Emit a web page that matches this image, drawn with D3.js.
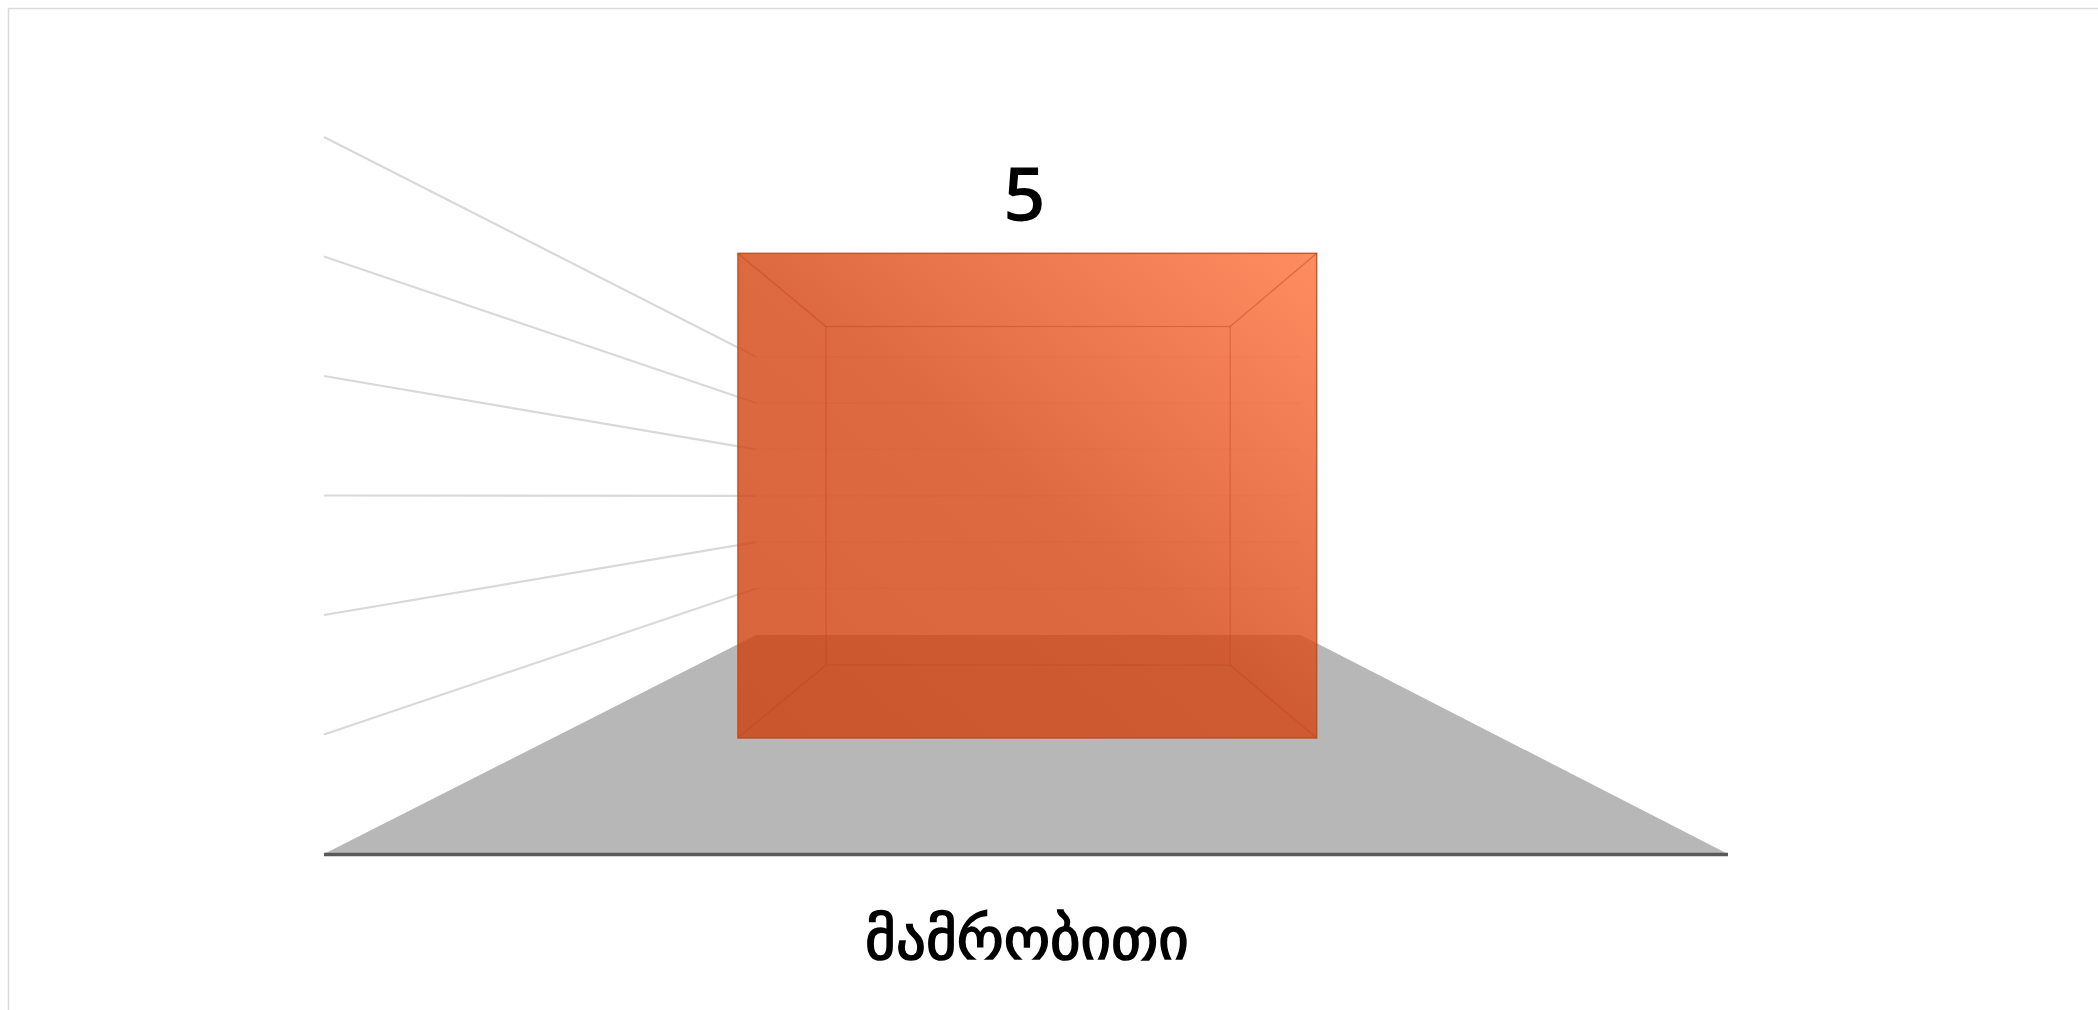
<!DOCTYPE html>
<html>
<head>
<meta charset="utf-8">
<script src="https://cdn.jsdelivr.net/npm/d3@7"></script>
<style>
  html, body { margin: 0; padding: 0; background: #fff; overflow: hidden; }
</style>
</head>
<body>
<svg width="2098" height="1010"></svg>
<script>
// dati del grafico
const categories = ['მამრობითი'];
const values = [5];
const valueMax = 5;          // valore in cima alla parete
const wallSteps = 6;         // righe della griglia sulla parete

const svg = d3.select('svg');

// punto di fuga e profondita' (1 = piano frontale)
const vp = {x: 1030, y: 496};
const depth = {floorFront: 1, floorBack: 0.388, barNear: 0.676, barFar: 0.472};

// scale sul piano frontale
const x = d3.scaleBand()
	.domain(categories)
	.range([324, 1728])
	.padding(0.2424);

const y = d3.scaleLinear()
	.domain([0, valueMax])
	.range([854, 137]);

const wall = d3.scaleLinear()
	.domain([0, wallSteps])
	.range(y.range());

// proiezione prospettica verso il punto di fuga
function proj(px, py, s) {
	return [vp.x + (px - vp.x) * s, vp.y + (py - vp.y) * s];
}

// bordo del grafico
svg.append('rect')
	.attr('x', 8.5)
	.attr('y', 8.5)
	.attr('width', 2200)
	.attr('height', 1200)
	.style('fill', 'none')
	.style('stroke', '#d9d9d9')
	.style('stroke-width', 1.5);

const x0 = x.range()[0], x1 = x.range()[1];
const gridLevels = d3.range(1, wallSteps + 1);

// griglia della parete laterale sinistra
gridLevels.forEach(function(k) {
	const a = proj(x0, wall(k), depth.floorFront);
	const b = proj(x0, wall(k), depth.floorBack);
	svg.append('line')
		.attr('x1', a[0]).attr('y1', a[1])
		.attr('x2', b[0]).attr('y2', b[1])
		.style('stroke', '#d9d9d9')
		.style('stroke-width', 2.2);
});

// griglia della parete di fondo (si vede appena attraverso la barra)
gridLevels.forEach(function(k) {
	const a = proj(x0, wall(k), depth.floorBack);
	const b = proj(x1, wall(k), depth.floorBack);
	svg.append('line')
		.attr('x1', a[0]).attr('y1', a[1])
		.attr('x2', b[0]).attr('y2', b[1])
		.style('stroke', '#e4e4e4')
		.style('stroke-opacity', 0.45)
		.style('stroke-width', 2);
});

// pavimento
const fl = [
	proj(x0, y(0), depth.floorFront),
	proj(x1, y(0), depth.floorFront),
	proj(x1, y(0), depth.floorBack),
	proj(x0, y(0), depth.floorBack)
];
svg.append('path')
	.attr('d', 'M' + fl.map(p => p.join(',')).join('L') + 'Z')
	.style('fill', '#b7b7b7');

svg.append('line')
	.attr('x1', fl[0][0]).attr('y1', fl[0][1] + 0.5)
	.attr('x2', fl[1][0]).attr('y2', fl[1][1] + 0.5)
	.style('stroke', '#595959')
	.style('stroke-width', 3.5);

// gradiente della barra
const defs = svg.append('defs');
const grad = defs.append('linearGradient')
	.attr('id', 'barGrad')
	.attr('x1', '0%').attr('y1', '100%')
	.attr('x2', '100%').attr('y2', '0%');
grad.append('stop').attr('offset', '0%').attr('stop-color', 'rgb(205,62,10)');
grad.append('stop').attr('offset', '50%').attr('stop-color', 'rgb(213,68,16)');
grad.append('stop').attr('offset', '100%').attr('stop-color', 'rgb(255,112,58)');

// barre
categories.forEach(function(c, i) {
	const left = x(c), right = x(c) + x.bandwidth();
	const top = y(values[i]), bottom = y(0);
	const n0 = proj(left, top, depth.barNear), n1 = proj(right, bottom, depth.barNear);
	const f0 = proj(left, top, depth.barFar), f1 = proj(right, bottom, depth.barFar);

	svg.append('rect')
		.attr('x', n0[0]).attr('y', n0[1])
		.attr('width', n1[0] - n0[0])
		.attr('height', n1[1] - n0[1])
		.style('fill', 'url(#barGrad)')
		.style('fill-opacity', 0.8)
		.style('stroke', 'rgb(190,70,30)')
		.style('stroke-opacity', 0.85)
		.style('stroke-width', 1.5);

	// spigoli interni della scatola
	const edge = 'rgba(195,72,25,0.45)';
	svg.append('rect')
		.attr('x', f0[0]).attr('y', f0[1])
		.attr('width', f1[0] - f0[0])
		.attr('height', f1[1] - f0[1])
		.style('fill', 'none')
		.style('stroke', edge)
		.style('stroke-width', 1.2);
	[[n0[0], n0[1], f0[0], f0[1]], [n1[0], n0[1], f1[0], f0[1]],
	 [n0[0], n1[1], f0[0], f1[1]], [n1[0], n1[1], f1[0], f1[1]]].forEach(function(l) {
		svg.append('line')
			.attr('x1', l[0]).attr('y1', l[1])
			.attr('x2', l[2]).attr('y2', l[3])
			.style('stroke', edge)
			.style('stroke-width', 1.5);
	});

	// etichetta del valore
	svg.append('text')
		.attr('x', (n0[0] + n1[0]) / 2 - 3)
		.attr('y', n0[1] - 32)
		.attr('text-anchor', 'middle')
		.attr('font-family', 'Open Sans')
		.attr('font-size', '74px')
		.attr('font-weight', 600)
		.attr('fill', '#000')
		.text(values[i]);

	// etichetta della categoria
	svg.append('text')
		.attr('x', x(c) + x.bandwidth() / 2 + 1)
		.attr('y', 959)
		.attr('text-anchor', 'middle')
		.attr('font-family', 'DejaVu Sans')
		.attr('font-size', '59px')
		.attr('fill', '#000')
		.attr('stroke', '#000')
		.attr('stroke-width', 1.6)
		.text(c);
});
</script>
</body>
</html>
